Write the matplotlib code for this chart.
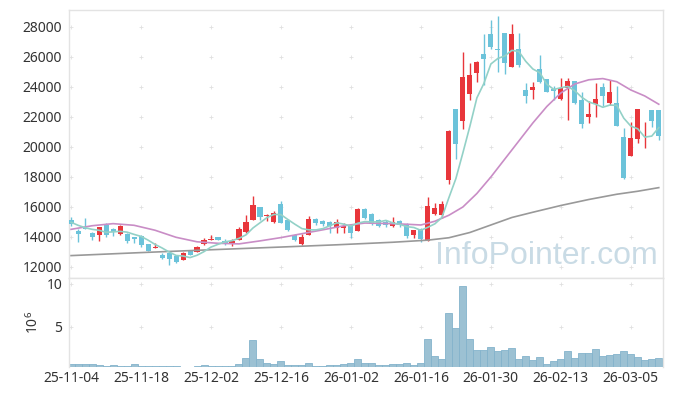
import numpy as np
import matplotlib
matplotlib.use('Agg')
import matplotlib.pyplot as plt

plt.rcParams['font.family'] = ['Noto Sans', 'DejaVu Sans']

# Data ------------------------------------------------------------------------
tick_labels = ['25-11-04', '25-11-18', '25-12-02', '25-12-16', '26-01-02',
               '26-01-16', '26-01-30', '26-02-13', '26-03-05']

opens = [15130, 14400, 14620, 14290, 14110, 14820, 14560, 14200, 14200, 14000,
         14070, 13530, 13250, 12790, 12900, 12730, 12460, 13060, 13000, 13500,
         13780, 14010, 13750, 13570, 13830, 14320, 15140, 15980, 15380, 14980,
         16220, 15140, 14100, 13550, 14165, 15200, 15080, 15020, 14580, 14600,
         14730, 14420, 15845, 15530, 15110, 15020, 14730, 15090, 14840, 14130,
         14510, 13760, 15560, 15480, 17800, 22530, 21760, 23510, 24910, 26220,
         27530, 26530, 27580, 25300, 26520, 23800, 23800, 25180, 24520, 23840,
         23170, 23910, 24420, 23130, 22020, 22870, 23980, 22960, 22910, 20640,
         19420, 20530, 20850, 22470, 22470]
highs = [15360, 14510, 15240, 14300, 14680, 14910, 14600, 14800, 14240, 14000,
         14110, 13530, 13580, 12950, 12900, 12770, 13000, 13120, 13400, 13950,
         14100, 14010, 13880, 13880, 14650, 15490, 16750, 16020, 15510, 15730,
         16420, 15200, 14170, 14170, 15400, 15290, 15140, 15050, 15190, 14960,
         14800, 15910, 15910, 15620, 15180, 15130, 15350, 15130, 14910, 14490,
         14580, 16640, 16270, 16380, 21100, 22530, 26310, 25580, 25730, 27550,
         28470, 28730, 27580, 28180, 27600, 24290, 24350, 26130, 24560, 24070,
         24600, 24580, 24420, 23690, 23090, 24240, 24240, 24470, 24070, 21240,
         21690, 22510, 21690, 22470, 22470]
lows = [14730, 13640, 14510, 13800, 13760, 14020, 14070, 14130, 13580, 13580,
        13360, 13050, 13250, 12550, 12150, 12290, 12460, 12770, 13000, 13440,
        13770, 13800, 13460, 13400, 13790, 14275, 15115, 15160, 15050, 14920,
        14900, 14430, 13760, 13460, 14120, 14830, 14760, 14280, 14260, 14240,
        13910, 14400, 15180, 14800, 14690, 14690, 14690, 14690, 13950, 13910,
        13690, 13760, 15470, 15240, 17530, 19180, 21200, 23130, 24360, 24130,
        26510, 25000, 24870, 25300, 25320, 22960, 23180, 24290, 23650, 23130,
        23100, 21800, 22870, 21240, 21620, 22020, 22730, 22800, 21420, 17840,
        19420, 20240, 19910, 21350, 20470]
closes = [14840, 14180, 14560, 14020, 14640, 14160, 14330, 14730, 13760, 13890,
          13490, 13090, 13300, 12580, 12550, 12330, 12900, 12780, 13350, 13770,
          13840, 13810, 13610, 13745, 14540, 15005, 16110, 15340, 15470, 15600,
          14940, 14450, 13780, 14020, 15190, 14930, 14880, 14750, 14980, 14730,
          14290, 15860, 15280, 14850, 14760, 14780, 15020, 14800, 14090, 14470,
          13840, 16060, 15930, 16200, 21070, 20200, 24640, 24780, 25670, 25880,
          26690, 26490, 25620, 27530, 25470, 23400, 23980, 24360, 23690, 23760,
          23950, 24420, 22910, 21510, 22200, 23200, 23420, 23640, 21420, 17910,
          20580, 22510, 20870, 21760, 20730]
volumes = [0.59, 0.59, 0.59, 0.59, 0.47, 0.39, 0.47, 0.39, 0.39, 0.59,
           0.39, 0.39, 0.37, 0.37, 0.37, 0.35, 0.30, 0.25, 0.39, 0.50,
           0.39, 0.39, 0.39, 0.39, 0.59, 1.33, 3.40, 1.17, 0.74, 0.63,
           0.98, 0.47, 0.47, 0.47, 0.70, 0.39, 0.39, 0.47, 0.50, 0.59,
           0.70, 1.17, 0.70, 0.70, 0.47, 0.47, 0.59, 0.59, 0.70, 0.47,
           0.70, 3.50, 1.52, 1.17, 6.56, 4.80, 9.77, 3.50, 2.23, 2.23,
           2.58, 2.11, 2.27, 2.46, 1.17, 1.52, 1.09, 1.41, 0.59, 0.98,
           1.17, 2.11, 1.29, 1.88, 1.88, 2.34, 1.52, 1.68, 1.80, 2.11,
           1.76, 1.41, 1.09, 1.17, 1.29]

ma5 = [14980, 14780, 14620, 14510, 14448, 14312, 14342, 14376, 14324, 14174,
       14040, 13792, 13506, 13270, 13002, 12770, 12732, 12628, 12782, 13026,
       13328, 13510, 13676, 13755, 13909, 14142, 14602, 14948, 15293, 15505,
       15492, 15160, 14848, 14558, 14476, 14474, 14560, 14754, 14946, 14854,
       14726, 14922, 15028, 15002, 15008, 15106, 14938, 14842, 14690, 14632,
       14444, 14652, 14878, 15300, 16620, 17892, 19608, 21378, 23272, 24234,
       25532, 25902, 26070, 26442, 26360, 25702, 25200, 24948, 24180, 23838,
       23948, 24036, 23746, 23310, 22998, 22848, 22648, 22794, 22776, 21918,
       21394, 21212, 20658, 20726, 21290]

ma20_idx = [0, 3, 6, 9, 12, 15, 18, 21, 24, 27, 30, 33, 36, 39, 42, 45, 48,
            50, 52, 54, 56, 58, 60, 62, 64, 66, 68, 70, 72, 74, 76, 78, 80,
            82, 84]
ma20_val = [14510, 14750, 14890, 14780, 14450, 13980, 13680, 13580, 13540,
            13740, 13960, 14220, 14480, 14750, 14930, 14900, 14850, 14800,
            15050, 15450, 16000, 16900, 18000, 19200, 20400, 21600, 22700,
            23600, 24200, 24480, 24560, 24350, 23800, 23400, 22850]

ma_long_idx = [0, 10, 20, 30, 38, 46, 51, 54, 57, 60, 63, 66, 70, 74, 78, 81,
               84]
ma_long_val = [12760, 12960, 13150, 13330, 13480, 13650, 13790, 13950, 14300,
               14800, 15300, 15650, 16100, 16500, 16850, 17050, 17290]

# Plot ------------------------------------------------------------------------
n = len(closes)
x = np.arange(n)
o = np.array(opens)
c = np.array(closes)
up = c >= o
red = '#e8363b'
blue = '#6cc3da'
cols = np.where(up, red, blue)

fig = plt.figure(figsize=(6.73, 3.96), dpi=100)
ax = fig.add_axes([0.1025, 0.298, 0.8826, 0.6768])
axv = fig.add_axes([0.1025, 0.0732, 0.8826, 0.2248], sharex=ax)

ax.text(0.803, 0.082, 'InfoPointer.com', transform=ax.transAxes,
        ha='center', va='center', fontsize=23, color='#c9dbe5',
        family=['Liberation Sans'], zorder=0)

ax.vlines(x, lows, highs, colors=cols, lw=1.0, zorder=2)
body_h = np.maximum(np.abs(c - o), 40)
ax.bar(x, body_h, bottom=np.minimum(o, c), width=0.72, color=cols,
       zorder=3)

ax.plot(ma_long_idx, ma_long_val, color='#999999', lw=1.2, zorder=4)
ax.plot(ma20_idx, ma20_val, color='#c98dc6', lw=1.2, zorder=4)
ax.plot(x, ma5, color='#93d1c7', lw=1.2, zorder=4)

axv.bar(x, volumes, width=1.0, color='#9cc1d3', edgecolor='#84b3cc',
        lw=0.6, zorder=2)

xt = np.arange(0, 81, 10)
yt = np.arange(12000, 28001, 2000)
vt = [5, 10]
gx, gy = np.meshgrid(xt, yt)
ax.scatter(gx.ravel(), gy.ravel(), marker='+', s=12, c='#e0e0e0', lw=0.6,
           zorder=0, clip_on=False)
gx, gy = np.meshgrid(xt, vt)
axv.scatter(gx.ravel(), gy.ravel(), marker='+', s=12, c='#e0e0e0', lw=0.6,
            zorder=0, clip_on=False)

ax.set_xlim(-0.3, 84.6)
ax.set_ylim(11267, 29133)
axv.set_ylim(0.27, 10.7)

ax.set_yticks(yt)
axv.set_yticks(vt)
axv.set_xticks(xt)
axv.set_xticklabels(tick_labels)
plt.setp(ax.get_xticklabels(), visible=False)

for a in (ax, axv):
    a.tick_params(length=0, labelsize=10, colors='#333333', pad=5)
    for s in a.spines.values():
        s.set_color('#e3e3e3')
        s.set_linewidth(1.0)
axv.spines['bottom'].set_visible(False)
axv.tick_params(axis='x', pad=3)

axv.text(-0.06, 0.5, r'$\mathregular{10^6}$', transform=axv.transAxes,
         rotation=90, ha='center', va='center', fontsize=10,
         color='#333333')

fig.savefig('out.png', dpi=100)
